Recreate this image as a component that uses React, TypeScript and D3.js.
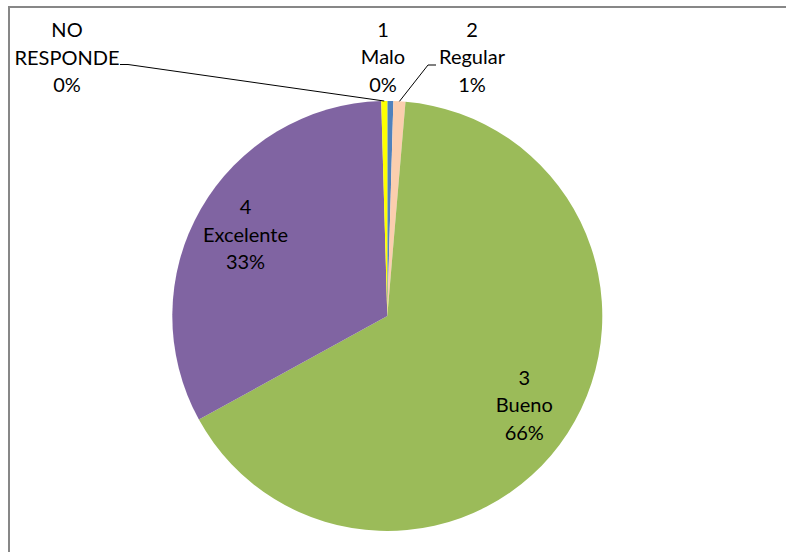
import React from "react";
import * as d3 from "d3";

const categories = ["1 Malo", "2 Regular", "3 Bueno", "4 Excelente", "NO RESPONDE"];
const labelLines = [["1", "Malo"], ["2", "Regular"], ["3", "Bueno"], ["4", "Excelente"], ["NO", "RESPONDE"]];
const values = [0.45, 0.9, 65.65, 32.55, 0.45];
const colors = ["#4F81BD", "#FBCEAE", "#9BBB59", "#8064A2", "#FFFF00"];

// layout for outside labels (center x, middle-line baseline y, leader start)
const outsideLabels: Record<number, { x: number; y: number; leader?: [number, number][] }> = {
  0: { x: 383, y: 64 },
  1: { x: 472, y: 64, leader: [[436, 65], [428, 65]] },
  4: { x: 67, y: 64.5, leader: [[120, 64.5], [128, 64.5]] },
};

const W = 786;
const H = 552;
const cx = 387.3;
const cy = 316;
const R = 215;
const lineH = 27.5;

export default function App() {
  const total = d3.sum(values);
  const pie = d3.pie<number>().sort(null).value((d) => d).startAngle(0).endAngle(2 * Math.PI);
  const arcs = pie(values);
  const arc = d3.arc<d3.PieArcDatum<number>>().innerRadius(0).outerRadius(R);
  const labelArc = d3.arc<d3.PieArcDatum<number>>().innerRadius(R * 0.76).outerRadius(R * 0.76);
  const edgeArc = d3.arc<d3.PieArcDatum<number>>().innerRadius(R).outerRadius(R);
  const pct = (v: number) => `${Math.round((v / total) * 100)}%`;

  return (
    <svg
      width={W}
      height={H}
      style={{ position: "absolute", left: 0, top: 0, background: "#fff" }}
      fontFamily="Lato, 'Open Sans', sans-serif"
    >
      <rect x={0} y={0} width={W} height={H} fill="#fff" />
      <path d={`M9,${H + 5} V7 H${W + 5}`} fill="none" stroke="#878787" strokeWidth={2} />
      <g transform={`translate(${cx},${cy})`}>
        {arcs.map((a, i) => (
          <path key={categories[i]} d={arc(a) || ""} fill={colors[i]} />
        ))}
      </g>
      {arcs.map((a, i) => {
        const lines = [...labelLines[i], pct(values[i])];
        const o = outsideLabels[i];
        let x: number, y: number;
        let leader: string | null = null;
        if (o) {
          x = o.x;
          y = o.y;
          if (o.leader) {
            const [ex, ey] = edgeArc.centroid(a);
            const pts = [...o.leader, [cx + ex, cy + ey]];
            leader = d3.line()(pts as [number, number][]);
          }
        } else {
          const [lx, ly] = labelArc.centroid(a);
          x = cx + lx;
          y = cy + ly + 7;
        }
        return (
          <g key={"l" + i}>
            {leader && <path d={leader} fill="none" stroke="#000" strokeWidth={1} />}
            <text x={x} textAnchor="middle" fontSize={20} fill="#000">
              {lines.map((t, k) => (
                <tspan key={k} x={x} y={y + (k - 1) * lineH}>
                  {t}
                </tspan>
              ))}
            </text>
          </g>
        );
      })}
    </svg>
  );
}
